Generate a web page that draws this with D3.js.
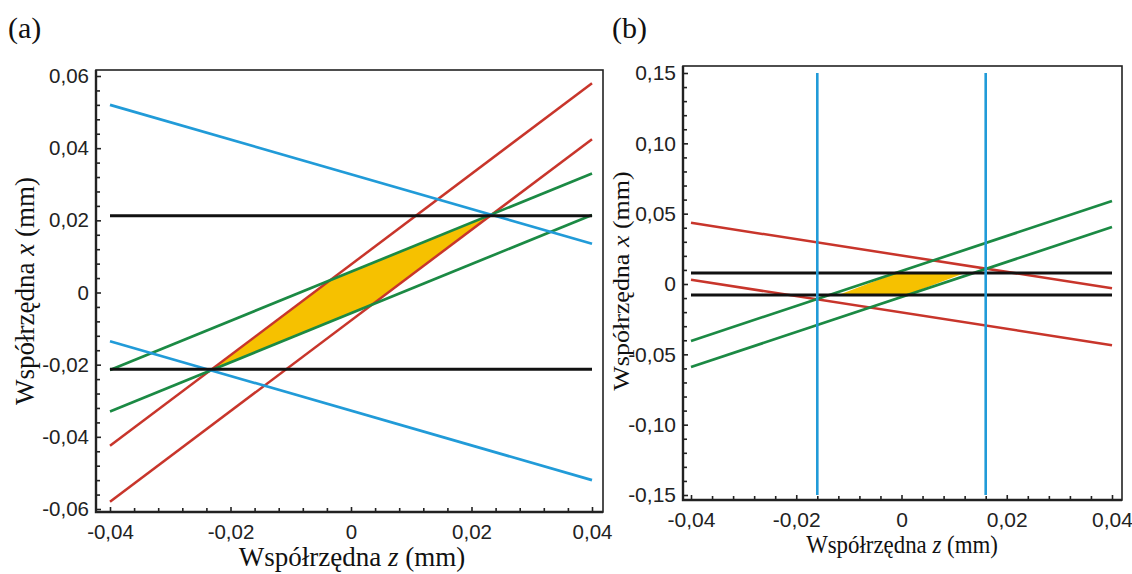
<!DOCTYPE html>
<html>
<head>
<meta charset="utf-8">
<script src="https://cdn.jsdelivr.net/npm/d3@7"></script>
<style>
  html, body { margin: 0; padding: 0; background: #fff; }
  svg { display: block; }
</style>
</head>
<body>
<svg id="chart" width="1132" height="574"></svg>
<script>
// ---------------- DATA ----------------
// Lines are given by their x value (mm) at z = -0.04 and z = 0.04
const zEnds = [-0.04, 0.04];

// Panel (a)
const aBlue1 = [0.052, 0.0135];
const aBlue2 = [-0.0135, -0.052];
const aRed1 = [-0.0425, 0.058];
const aRed2 = [-0.058, 0.0425];
const aGreen1 = [-0.0215, 0.033];
const aGreen2 = [-0.033, 0.0215];
const aBlack1 = [0.0213, 0.0213];
const aBlack2 = [-0.0213, -0.0213];
const aYellowZ = [-0.0231, -0.004, 0.0231, 0.004];
const aYellowX = [-0.0213, 0.003, 0.0213, -0.003];
const aXTicks = [-0.04, -0.02, 0, 0.02, 0.04];
const aXLabels = ["-0,04", "-0,02", "0", "0,02", "0,04"];
const aYTicks = [-0.06, -0.04, -0.02, 0, 0.02, 0.04, 0.06];
const aYLabels = ["-0,06", "-0,04", "-0,02", "0", "0,02", "0,04", "0,06"];

// Panel (b)
const bRed1 = [0.0435, -0.003];
const bRed2 = [0.003, -0.0435];
const bGreen1 = [-0.0405, 0.059];
const bGreen2 = [-0.059, 0.0405];
const bBlack1 = [0.0078, 0.0078];
const bBlack2 = [-0.0078, -0.0078];
const bBlueZ = [-0.016, 0.016];       // vertical lines at these z
const bBlueSpan = [-0.15, 0.15];      // x extent of vertical lines
const bYellowZ = [-0.012, -0.001, 0.012, 0.001];
const bYellowX = [-0.0078, 0.0078, 0.0078, -0.0078];
const bXTicks = [-0.04, -0.02, 0, 0.02, 0.04];
const bXLabels = ["-0,04", "-0,02", "0", "0,02", "0,04"];
const bYTicks = [-0.15, -0.10, -0.05, 0, 0.05, 0.10, 0.15];
const bYLabels = ["-0,15", "-0,10", "-0,05", "0", "0,05", "0,10", "0,15"];

const xTitle = ["Współrzędna ", "z", " (mm)"];
const yTitle = ["Współrzędna ", "x", " (mm)"];

// ---------------- STYLE ----------------
const C = { blue: "#219bd8", red: "#c8352b", green: "#1b8a44", black: "#111", yellow: "#f6c100", axis: "#222" };

const svg = d3.select("#chart");

function minorValues(lo, hi, step, majors) {
  const out = [];
  const n = Math.round((hi - lo) / step);
  for (let i = 0; i <= n; i++) {
    const v = +(lo + i * step).toFixed(6);
    if (!majors.some(m => Math.abs(m - v) < 1e-9)) out.push(v);
  }
  return out;
}

function drawPanel(cfg) {
  const g = svg.append("g");
  const x = d3.scaleLinear().domain(zEnds).range(cfg.xRange);
  const y = d3.scaleLinear().domain([cfg.yTicks[0], cfg.yTicks[cfg.yTicks.length - 1]]).range(cfg.yRange);
  const f = cfg.frame;

  // yellow region
  const poly = cfg.yellowZ.map((z, i) => [x(z), y(cfg.yellowX[i])]);
  g.append("path").attr("d", d3.line()(poly) + "Z").attr("fill", C.yellow).attr("stroke", "none");

  const line = d3.line().x(d => x(d[0])).y(d => y(d[1]));
  cfg.lines.forEach(L => {
    g.append("path")
      .attr("d", line(zEnds.map((z, i) => [z, L.v[i]])))
      .attr("fill", "none").attr("stroke", L.c).attr("stroke-width", L.w);
  });
  (cfg.vlines || []).forEach(L => {
    g.append("path")
      .attr("d", line(L.span.map(v => [L.z, v])))
      .attr("fill", "none").attr("stroke", L.c).attr("stroke-width", L.w);
  });

  // frame
  g.append("rect").attr("x", f.left).attr("y", f.top)
    .attr("width", f.right - f.left).attr("height", f.bottom - f.top)
    .attr("fill", "none").attr("stroke", C.axis).attr("stroke-width", 1.6);
  g.append("path").attr("d", `M${f.left},${f.top}V${f.bottom}H${f.right}`)
    .attr("fill", "none").attr("stroke", C.axis).attr("stroke-width", 2.4);

  // axes
  const xAxis = d3.axisBottom(x).tickValues(cfg.xTicks).tickFormat((d, i) => cfg.xLabels[i])
    .tickSize(-5).tickPadding(cfg.xPad);
  const gx = g.append("g").attr("transform", `translate(0,${f.bottom})`).call(xAxis);
  const xMinor = d3.axisBottom(x).tickValues(minorValues(zEnds[0], zEnds[1], 0.004, cfg.xTicks))
    .tickFormat("").tickSize(-4);
  const gxm = g.append("g").attr("transform", `translate(0,${f.bottom})`).call(xMinor);

  const yAxis = d3.axisLeft(y).tickValues(cfg.yTicks).tickFormat((d, i) => cfg.yLabels[i])
    .tickSize(-5).tickPadding(cfg.yPad);
  const gy = g.append("g").attr("transform", `translate(${f.left},0)`).call(yAxis);
  const yMinor = d3.axisLeft(y).tickValues(minorValues(cfg.yTicks[0], cfg.yTicks[cfg.yTicks.length - 1], cfg.yMinorStep, cfg.yTicks))
    .tickFormat("").tickSize(-4);
  const gym = g.append("g").attr("transform", `translate(${f.left},0)`).call(yMinor);

  [gx, gxm, gy, gym].forEach(a => {
    a.select(".domain").remove();
    a.selectAll(".tick line").attr("stroke", C.axis).attr("stroke-width", 1.6);
    a.selectAll(".tick text").attr("fill", C.axis)
      .attr("font-family", cfg.tickFont).attr("font-size", cfg.tickSize);
  });

  // titles
  const tx = g.append("text")
    .attr("transform", `translate(${cfg.xTitlePos[0]},${cfg.xTitlePos[1]}) scale(${cfg.titleScale},1)`)
    .attr("text-anchor", "middle").attr("font-family", "'Liberation Serif', 'Times New Roman', serif")
    .attr("font-size", cfg.titleSize).attr("fill", "#111");
  xTitle.forEach((s, i) => tx.append("tspan").text(s).attr("font-style", i === 1 ? "italic" : "normal"));

  const ty = g.append("text")
    .attr("transform", `translate(${cfg.yTitlePos[0]},${cfg.yTitlePos[1]}) scale(${cfg.titleScale},1) rotate(-90)`)
    .attr("text-anchor", "middle").attr("font-family", "'Liberation Serif', 'Times New Roman', serif")
    .attr("font-size", cfg.titleSize).attr("fill", "#111");
  yTitle.forEach((s, i) => ty.append("tspan").text(s).attr("font-style", i === 1 ? "italic" : "normal"));

  g.append("text").attr("x", cfg.tag[1]).attr("y", cfg.tag[2])
    .attr("font-family", "'Liberation Serif', 'Times New Roman', serif")
    .attr("font-size", 30).attr("fill", "#111").text(cfg.tag[0]);
}

drawPanel({
  frame: { left: 96, right: 603, top: 70, bottom: 512 },
  xRange: [110, 592], yRange: [509, 76],
  xTicks: aXTicks, xLabels: aXLabels, yTicks: aYTicks, yLabels: aYLabels, yMinorStep: 0.004,
  xPad: 12, yPad: 7, tickFont: "'Liberation Sans', Arial, sans-serif", tickSize: 20.5,
  yellowZ: aYellowZ, yellowX: aYellowX,
  lines: [
    { v: aRed1, c: C.red, w: 2.5 }, { v: aRed2, c: C.red, w: 2.5 },
    { v: aGreen1, c: C.green, w: 2.7 }, { v: aGreen2, c: C.green, w: 2.7 },
    { v: aBlue1, c: C.blue, w: 2.7 }, { v: aBlue2, c: C.blue, w: 2.7 },
    { v: aBlack1, c: C.black, w: 3 }, { v: aBlack2, c: C.black, w: 3 }
  ],
  xTitlePos: [352, 566], yTitlePos: [34, 291], titleSize: 27, titleScale: 1,
  tag: ["(a)", 8, 38]
});

drawPanel({
  frame: { left: 683, right: 1122, top: 66, bottom: 500 },
  xRange: [691, 1112], yRange: [495, 73],
  xTicks: bXTicks, xLabels: bXLabels, yTicks: bYTicks, yLabels: bYLabels, yMinorStep: 0.01,
  xPad: 12, yPad: 7, tickFont: "'Liberation Sans Narrow', 'Arial Narrow', sans-serif", tickSize: 21,
  yellowZ: bYellowZ, yellowX: bYellowX,
  lines: [
    { v: bRed1, c: C.red, w: 2.5 }, { v: bRed2, c: C.red, w: 2.5 },
    { v: bGreen1, c: C.green, w: 2.7 }, { v: bGreen2, c: C.green, w: 2.7 },
    { v: bBlack1, c: C.black, w: 3 }, { v: bBlack2, c: C.black, w: 3 }
  ],
  vlines: [
    { z: bBlueZ[0], span: bBlueSpan, c: C.blue, w: 2.6 },
    { z: bBlueZ[1], span: bBlueSpan, c: C.blue, w: 2.6 }
  ],
  xTitlePos: [902, 553], yTitlePos: [629, 281], titleSize: 26, titleScale: 0.88,
  tag: ["(b)", 612, 38]
});
</script>
</body>
</html>
